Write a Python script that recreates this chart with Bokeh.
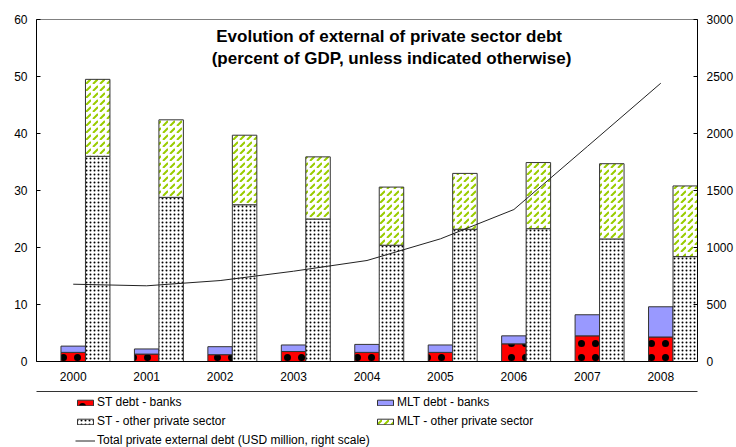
from bokeh.plotting import figure
from bokeh.layouts import column
from bokeh.models import (ColumnDataSource, Range1d, LinearAxis, FixedTicker,
                          Legend, LegendItem, Label, FactorRange)
from bokeh.transform import dodge
from bokeh.embed import file_html
from bokeh.resources import INLINE

years = ["2000", "2001", "2002", "2003", "2004", "2005", "2006", "2007", "2008"]
st_banks = [1.6, 1.3, 1.2, 1.75, 1.6, 1.6, 3.1, 4.5, 4.3]
mlt_banks = [1.1, 0.9, 1.4, 1.15, 1.4, 1.3, 1.4, 3.7, 5.3]
st_other = [36.0, 28.8, 27.5, 25.0, 20.4, 23.2, 23.3, 21.5, 18.4]
mlt_other = [13.5, 13.6, 12.2, 10.9, 10.2, 9.8, 11.6, 13.2, 12.4]
total_debt = [678, 664, 710, 792, 886, 1076, 1333, 1886, 2441]

left_ticks = [0, 10, 20, 30, 40, 50, 60]
right_ticks = [0, 500, 1000, 1500, 2000, 2500, 3000]

src = ColumnDataSource(dict(
    year=years,
    st_banks=st_banks,
    bank_top=[a + b for a, b in zip(st_banks, mlt_banks)],
    st_other=st_other,
    other_top=[a + b for a, b in zip(st_other, mlt_other)],
    total_debt=total_debt,
))

FONT = "Liberation Sans"

STYLE_ST_BANKS = dict(fill_color="#FF0000", line_color="#333333", line_width=1,
                      hatch_pattern="dot", hatch_color="black", hatch_scale=14)
STYLE_MLT_BANKS = dict(fill_color="#9999FF", line_color="#333333", line_width=1)
STYLE_ST_OTHER = dict(fill_color="white", line_color="#333333", line_width=1,
                      hatch_pattern="dot", hatch_color="black", hatch_scale=4)
STYLE_MLT_OTHER = dict(fill_color="white", line_color="#333333", line_width=1,
                       hatch_pattern="right_diagonal_dash", hatch_color="#99CC00",
                       hatch_scale=7, hatch_weight=2)
STYLE_LINE = dict(line_color="#222222", line_width=1)

p = figure(width=736, height=391, x_range=FactorRange(factors=years),
           y_range=Range1d(0, 60), output_backend="svg", toolbar_location=None,
           min_border_left=36, min_border_right=38, min_border_top=19,
           min_border_bottom=30)
p.x_range.range_padding = 0
p.extra_y_ranges = {"right": Range1d(0, 3000)}
p.grid.visible = False
p.outline_line_color = "#808080"
p.outline_line_width = 1
p.background_fill_color = "white"
p.border_fill_color = "white"

W = 1 / 3
r1 = p.vbar(x=dodge("year", 0, range=p.x_range), width=W, bottom=0, top="st_banks",
            source=src, **STYLE_ST_BANKS)
r2 = p.vbar(x=dodge("year", 0, range=p.x_range), width=W, bottom="st_banks", top="bank_top",
            source=src, **STYLE_MLT_BANKS)
r3 = p.vbar(x=dodge("year", W, range=p.x_range), width=W, bottom=0, top="st_other",
            source=src, **STYLE_ST_OTHER)
r4 = p.vbar(x=dodge("year", W, range=p.x_range), width=W, bottom="st_other", top="other_top",
            source=src, **STYLE_MLT_OTHER)
r5 = p.line(x="year", y="total_debt", y_range_name="right", source=src, **STYLE_LINE)

# axes
p.yaxis[0].ticker = FixedTicker(ticks=left_ticks)
rax = LinearAxis(y_range_name="right", ticker=FixedTicker(ticks=right_ticks))
p.add_layout(rax, "right")
for ax in [p.yaxis[0], rax]:
    ax.major_tick_in = 4
    ax.major_tick_out = 0
    ax.minor_tick_line_color = None
    ax.axis_line_color = "black"
    ax.axis_line_width = 1
    ax.major_tick_line_color = "black"
    ax.major_label_standoff = 9
    ax.major_label_text_font = FONT
    ax.major_label_text_font_size = "12px"
    ax.major_label_text_color = "black"

xa = p.xaxis[0]
xa.major_tick_line_color = None
xa.major_tick_out = 0
xa.major_tick_in = 0
xa.minor_tick_line_color = None
xa.axis_line_color = "black"
xa.major_label_standoff = 10
xa.major_label_text_font = FONT
xa.major_label_text_font_size = "12px"
xa.major_label_text_color = "black"

# title
for txt, vy in [("Evolution of external  of private sector debt", 325.3),
                ("(percent of GDP, unless indicated otherwise)", 303.3)]:
    p.add_layout(Label(x=355, y=vy, x_units="screen", y_units="screen", text=txt,
                       text_align="center", text_baseline="middle", text_font=FONT,
                       text_font_style="bold", text_font_size="17px", text_color="black"))

# ---- legend strip (separate figure below the chart) ----
lf = figure(width=736, height=56, x_range=Range1d(0, 1), y_range=Range1d(0, 1),
            output_backend="svg", toolbar_location=None, x_axis_location="above",
            y_axis_location=None, min_border_left=36, min_border_right=38,
            min_border_top=0, min_border_bottom=0)
lf.grid.visible = False
lf.outline_line_color = None
lf.background_fill_color = "white"
lf.border_fill_color = "white"
top_ax = lf.xaxis[0]
top_ax.ticker = FixedTicker(ticks=[])
top_ax.axis_line_color = "#333333"
top_ax.major_tick_out = 0
top_ax.major_tick_in = 0
top_ax.minor_tick_out = 0
top_ax.minor_tick_in = 0
top_ax.major_label_standoff = 0

# hidden proxies (same data, not drawn) that give the legend its swatches
k1 = lf.vbar(x="st_banks", top="st_banks", width=0.1, source=src, visible=False, **STYLE_ST_BANKS)
k2 = lf.vbar(x="st_banks", top="bank_top", width=0.1, source=src, visible=False, **STYLE_MLT_BANKS)
k3 = lf.vbar(x="st_banks", top="st_other", width=0.1, source=src, visible=False, **STYLE_ST_OTHER)
k4 = lf.vbar(x="st_banks", top="other_top", width=0.1, source=src, visible=False, **STYLE_MLT_OTHER)
k5 = lf.line(x="st_banks", y="total_debt", source=src, visible=False, **STYLE_LINE)

def mk_legend(items, loc):
    return Legend(items=items, location=loc, orientation="vertical",
                  glyph_width=20, glyph_height=7, label_standoff=2, label_height=19,
                  spacing=0, padding=0, margin=0,
                  background_fill_alpha=0, border_line_color=None, label_text_font=FONT,
                  label_text_font_size="12px", label_text_color="black")

legA = mk_legend([LegendItem(label="ST debt - banks", renderers=[k1]),
                  LegendItem(label="ST - other private sector", renderers=[k3]),
                  LegendItem(label="Total private external debt (USD million, right scale)",
                             renderers=[k5])], (39, -2.5))
legB = mk_legend([LegendItem(label="MLT debt - banks", renderers=[k2]),
                  LegendItem(label="MLT - other private sector", renderers=[k4])],
                 (339, 16.5))
lf.add_layout(legA, "center")
lf.add_layout(legB, "center")

layout = column(p, lf, spacing=0)
open("out.html", "w").write(file_html(layout, INLINE))
